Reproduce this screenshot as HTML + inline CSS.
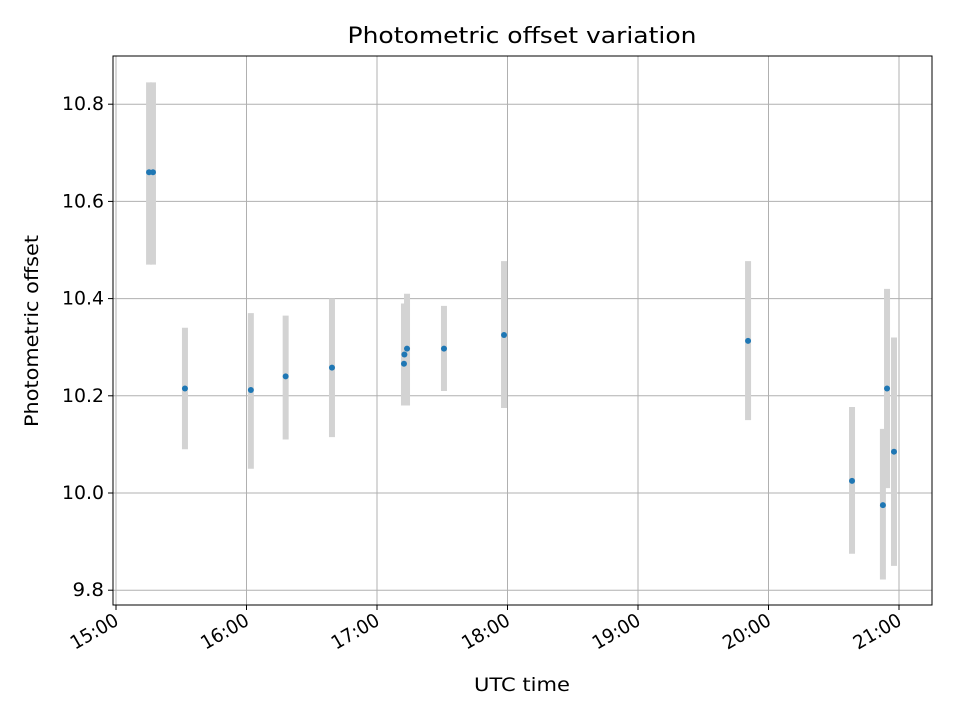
<!DOCTYPE html>
<html><head><meta charset="utf-8"><style>
body{margin:0;background:#fff}
svg text{font-family:"DejaVu Sans","Liberation Sans",sans-serif;fill:#000}
</style></head><body>
<svg id="chart" width="960" height="720" xmlns="http://www.w3.org/2000/svg">
<rect x="0" y="0" width="960" height="720" fill="#fff"/>
<g id="grid"></g>
<g id="bars"></g>
<g id="pts"></g>
<rect x="113" y="56" width="819" height="549" fill="none" stroke="#000" stroke-width="1"/>
<g id="ticks"></g>
<text x="522" y="43" text-anchor="middle" style="font-size:22px" textLength="349" lengthAdjust="spacingAndGlyphs">Photometric offset variation</text>
<text x="522" y="691" text-anchor="middle" style="font-size:19px" textLength="96" lengthAdjust="spacingAndGlyphs">UTC time</text>
<text x="38" y="331" text-anchor="middle" style="font-size:19px" textLength="192" lengthAdjust="spacingAndGlyphs" transform="rotate(-90 38 331)">Photometric offset</text>
</svg>
<script>
// minutes since 15:00
const times=[15.2,17.0,31.7,62,78,99.3,132.4,132.6,133.8,150.8,178.4,290.6,338.4,352.6,354.5,357.7];
const values=[10.66,10.66,10.215,10.212,10.24,10.258,10.266,10.285,10.297,10.297,10.325,10.313,10.025,9.975,10.215,10.085];
const errLow=[10.47,10.47,10.09,10.05,10.11,10.115,10.18,10.18,10.18,10.21,10.175,10.15,9.875,9.822,10.01,9.85];
const errHigh=[10.845,10.845,10.34,10.37,10.365,10.40,10.39,10.39,10.41,10.385,10.477,10.477,10.177,10.132,10.42,10.32];
const yTicks=[9.8,10.0,10.2,10.4,10.6,10.8];
const xTickLabels=["15:00","16:00","17:00","18:00","19:00","20:00","21:00"];
const xTickMinutes=[0,60,120,180,240,300,360];
const NS="http://www.w3.org/2000/svg";
const X=m=>116+m*130.5/60;
const Y=v=>493-(v-10)*486;
function mk(tag,attrs,parent){const e=document.createElementNS(NS,tag);for(const k in attrs)e.setAttribute(k,attrs[k]);document.getElementById(parent).appendChild(e);return e;}
yTicks.forEach(v=>{
 const g=mk('line',{x1:113,x2:932,y1:Y(v),y2:Y(v),stroke:'#b0b0b0','stroke-width':1},'grid');
 
 const t=mk('line',{x1:108,x2:113,y1:Y(v),y2:Y(v),stroke:'#000'},'ticks');
 
 const s=v.toFixed(1);
 const l=mk('text',{x:104,y:Y(v)+6,'text-anchor':'end',style:'font-size:19px',textLength:s.length*10.5,lengthAdjust:'spacingAndGlyphs'},'ticks');
 l.textContent=s;
 
});
xTickMinutes.forEach((m,i)=>{
 const x=X(m);
 const g=mk('line',{x1:x,x2:x,y1:56,y2:605,stroke:'#b0b0b0','stroke-width':1},'grid');
 
 const t=mk('line',{x1:x,x2:x,y1:605,y2:610,stroke:'#000'},'ticks');
 
 const l=mk('text',{x:x+4,y:624,'text-anchor':'end',style:'font-size:19px',textLength:52,lengthAdjust:'spacingAndGlyphs',transform:`rotate(-30 ${x+4} 624)`},'ticks');
 l.textContent=xTickLabels[i];
 
});
times.forEach((m,i)=>{
 const b=mk('line',{x1:X(m),x2:X(m),y1:Y(errLow[i]),y2:Y(errHigh[i]),stroke:'#d3d3d3','stroke-width':6},'bars');
 
});
times.forEach((m,i)=>{
 const p=mk('circle',{cx:X(m),cy:Y(values[i]),r:3,fill:'#1f77b4'},'pts');
 
});
</script>
</body></html>
